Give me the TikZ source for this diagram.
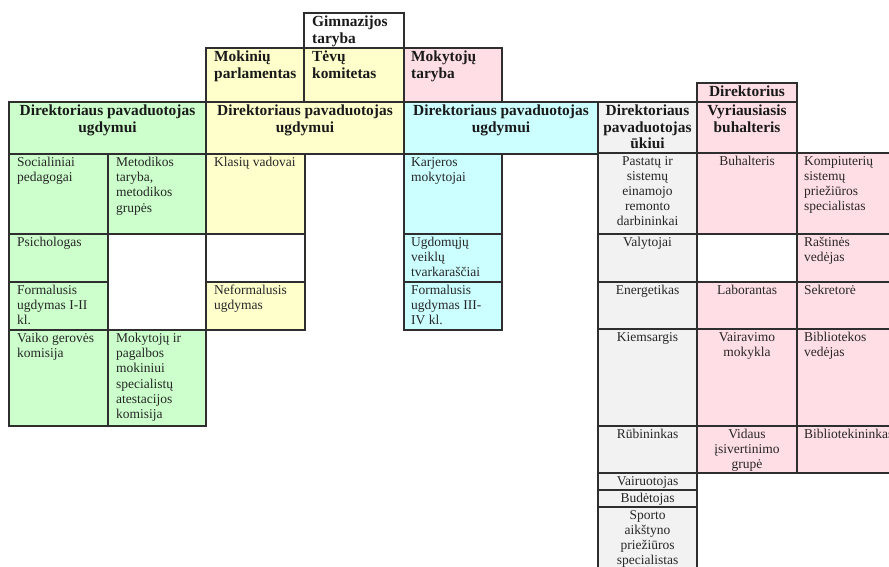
\documentclass[tikz,border=0pt]{standalone}
\usepackage{fontspec}
\setmainfont{Liberation Serif}
\definecolor{bordc}{HTML}{2E2E2E}
\definecolor{cgreen}{HTML}{CCFFCC}
\definecolor{cyellow}{HTML}{FFFFCC}
\definecolor{cblue}{HTML}{CCFFFF}
\definecolor{cpink}{HTML}{FFDFE5}
\definecolor{cgray}{HTML}{F2F2F2}
\tikzset{
  cellrect/.style={draw=bordc, line width=1.1pt},
  bodytxt/.style={inner sep=0pt, font=\fontsize{13.5}{15.2}\selectfont, text=black!85},
  headtxt/.style={inner sep=0pt, font=\fontsize{15.4}{16.8}\selectfont\bfseries, text=black!90},
  lt/.style={bodytxt, anchor=north west, align=left},
  ct/.style={bodytxt, anchor=north, align=center},
  hl/.style={headtxt, anchor=north west, align=left},
  hc/.style={headtxt, anchor=north, align=center},
}
% \tcell{x1}{y1}{x2}{y2}{fill}
\newcommand\tcell[5]{\path[cellrect, fill=#5] (#1,#2) rectangle (#3,#4);}
\begin{document}
\begin{tikzpicture}[x=1pt,y=-1pt]
\useasboundingbox (0,0) rectangle (889,567);
\clip (0,0) rectangle (889,567);
\fill[white] (0,0) rectangle (889,567);
% ---------- top row boxes ----------
\tcell{304}{13}{404}{48}{white}
\tcell{206}{48}{304}{102}{cyellow}
\tcell{304}{48}{404}{102}{cyellow}
\tcell{404}{48}{502}{102}{cpink}
\tcell{697}{83}{797}{102}{cpink}
% headers
\tcell{9}{102}{206}{154}{cgreen}
\tcell{206}{102}{404}{154}{cyellow}
\tcell{404}{102}{598}{154}{cblue}
\tcell{598}{102}{697}{153}{cgray}
\tcell{697}{102}{797}{153}{cpink}
% ---------- left block ----------
\tcell{9}{154}{108}{234}{cgreen}
\tcell{108}{154}{206}{234}{cgreen}
\tcell{9}{234}{108}{282}{cgreen}
\tcell{108}{234}{206}{330}{white}
\tcell{9}{282}{108}{330}{cgreen}
\tcell{9}{330}{108}{426}{cgreen}
\tcell{108}{330}{206}{426}{cgreen}
\tcell{206}{154}{305}{234}{cyellow}
\tcell{206}{234}{305}{282}{white}
\tcell{206}{282}{305}{330}{cyellow}
\tcell{404}{154}{502}{234}{cblue}
\tcell{404}{234}{502}{282}{cblue}
\tcell{404}{282}{502}{330}{cblue}
% ---------- right block ----------
\tcell{598}{153}{697}{234}{cgray}
\tcell{598}{234}{697}{282}{cgray}
\tcell{598}{282}{697}{329}{cgray}
\tcell{598}{329}{697}{426}{cgray}
\tcell{598}{426}{697}{473}{cgray}
\tcell{598}{473}{697}{490}{cgray}
\tcell{598}{490}{697}{507}{cgray}
\tcell{598}{507}{697}{590}{cgray}
\tcell{697}{153}{797}{234}{cpink}
\tcell{697}{234}{797}{282}{white}
\tcell{697}{282}{797}{329}{cpink}
\tcell{697}{329}{797}{426}{cpink}
\tcell{697}{426}{797}{473}{cpink}
\tcell{797}{153}{900}{234}{cpink}
\tcell{797}{234}{900}{282}{cpink}
\tcell{797}{282}{900}{329}{cpink}
\tcell{797}{329}{900}{426}{cpink}
\tcell{797}{426}{900}{473}{cpink}
% ---------- texts: top ----------
\node[hl] (gimn) at (312,16) {Gimnazijos\\taryba};
\node[hl] (mokpar) at (214,51) {Mokinių\\parlamentas};
\node[hl] (tevu) at (312,51) {Tėvų\\komitetas};
\node[hl] (mokt) at (411,51) {Mokytojų\\taryba};
\node[hc] (dir) at (747,86) {Direktorius};
\node[hc] (h1) at (107.5,104.5) {Direktoriaus pavaduotojas\\ugdymui};
\node[hc] (h2) at (305,104.5) {Direktoriaus pavaduotojas\\ugdymui};
\node[hc] (h3) at (501,104.5) {Direktoriaus pavaduotojas\\ugdymui};
\node[hc] (h4) at (647.5,104.5) {Direktoriaus\\pavaduotojas\\ūkiui};
\node[hc] (vyr) at (747,104.5) {Vyriausiasis\\buhalteris};
% ---------- texts: left ----------
\node[lt] (soc) at (17,157) {Socialiniai\\pedagogai};
\node[lt] (met) at (116,157) {Metodikos\\taryba,\\metodikos\\grupės};
\node[lt] (psi) at (17,237) {Psichologas};
\node[lt] (form1) at (17,285) {Formalusis\\ugdymas I-II\\kl.};
\node[lt] (vaiko) at (17,333) {Vaiko gerovės\\komisija};
\node[lt] (atest) at (116,333) {Mokytojų ir\\pagalbos\\mokiniui\\specialistų\\atestacijos\\komisija};
\node[lt] (klas) at (214,157) {Klasių vadovai};
\node[lt] (nef) at (214,285) {Neformalusis\\ugdymas};
\node[lt] (karj) at (411,157) {Karjeros\\mokytojai};
\node[lt] (ugdv) at (411,237) {Ugdomųjų\\veiklų\\tvarkaraščiai};
\node[lt] (form3) at (411,285) {Formalusis\\ugdymas III-\\IV kl.};
% ---------- texts: right ----------
\node[ct] (past) at (647.5,156) {Pastatų ir\\sistemų\\einamojo\\remonto\\darbininkai};
\node[ct] (valyt) at (647.5,237) {Valytojai};
\node[ct] (energ) at (647.5,285) {Energetikas};
\node[ct] (kiem) at (647.5,332) {Kiemsargis};
\node[ct] (rub) at (647.5,429) {Rūbininkas};
\node[ct] (vair) at (647.5,476) {Vairuotojas};
\node[ct] (bud) at (647.5,493) {Budėtojas};
\node[ct] (sport) at (647.5,510) {Sporto\\aikštyno\\priežiūros\\specialistas};
\node[ct] (buh) at (747,156) {Buhalteris};
\node[ct] (lab) at (747,285) {Laborantas};
\node[ct] (vairm) at (747,332) {Vairavimo\\mokykla};
\node[ct] (vid) at (747,429) {Vidaus\\įsivertinimo\\grupė};
\node[lt] (komp) at (804,156) {Kompiuterių\\sistemų\\priežiūros\\specialistas};
\node[lt] (rast) at (804,237) {Raštinės\\vedėjas};
\node[lt] (sekr) at (804,285) {Sekretorė};
\node[lt] (bibv) at (804,332) {Bibliotekos\\vedėjas};
\node[lt] (bibl) at (804,429) {Bibliotekininkas};
\end{tikzpicture}
\end{document}
